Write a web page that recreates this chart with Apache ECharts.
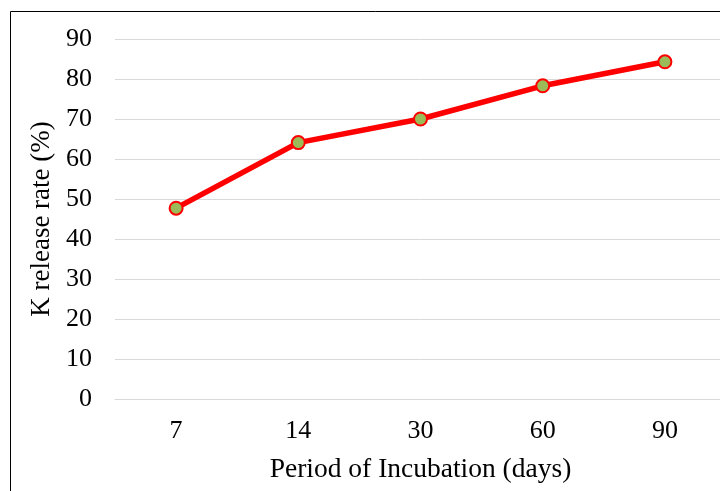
<!DOCTYPE html>
<html><head><meta charset="utf-8">
<script src="https://cdn.jsdelivr.net/npm/echarts@6/dist/echarts.min.js"></script>
<style>html,body{margin:0;padding:0;background:#fff;overflow:hidden}#c{width:740px;height:491px}</style>
</head><body><div id="c"></div>
<script>
const categories = ['7', '14', '30', '60', '90'];
const kRelease = [47.7, 64.1, 70.0, 78.3, 84.3];
const yTicks = [0, 10, 20, 30, 40, 50, 60, 70, 80, 90];

const chart = echarts.init(document.getElementById('c'), null, {renderer: 'canvas'});
const font = '"Liberation Serif", "Times New Roman", serif';
chart.setOption({
  backgroundColor: '#fff',
  animation: false,
  graphic: [{
    type: 'rect', shape: {x: 10.5, y: 11.5, width: 800, height: 600},
    style: {fill: 'none', stroke: '#000', lineWidth: 1}, silent: true
  }],
  grid: {left: 115, top: 39, width: 611, height: 360, containLabel: false},
  xAxis: {
    type: 'category', data: categories, boundaryGap: true,
    axisLine: {show: true, lineStyle: {color: '#d9d9d9', width: 1}},
    axisTick: {show: false},
    axisLabel: {fontFamily: font, fontSize: 26, color: '#000', margin: 19},
    name: 'Period of Incubation (days)', nameLocation: 'middle', nameGap: 57,
    nameTextStyle: {fontFamily: font, fontSize: 27.5, color: '#000'}
  },
  yAxis: {
    type: 'value', min: yTicks[0], max: yTicks[yTicks.length - 1], interval: 10,
    axisLine: {show: false}, axisTick: {show: false},
    splitLine: {lineStyle: {color: '#d9d9d9', width: 1}},
    axisLabel: {fontFamily: font, fontSize: 26, color: '#000', margin: 23},
    name: 'K release rate (%)', nameLocation: 'middle', nameGap: 56,
    nameTextStyle: {fontFamily: font, fontSize: 27, color: '#000'}
  },
  series: [{
    type: 'line', data: kRelease,
    lineStyle: {color: '#ff0000', width: 5.5},
    symbol: 'circle', symbolSize: 13,
    itemStyle: {color: '#9bbb59', borderColor: '#ff0000', borderWidth: 2}
  }]
});
</script></body></html>
